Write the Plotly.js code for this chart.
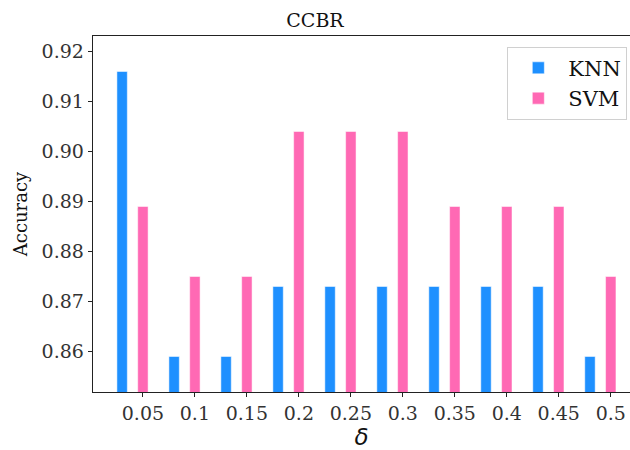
<!DOCTYPE html>
<html>
<head>
<meta charset="utf-8">
<script src="https://cdn.plot.ly/plotly-3.0.1.min.js"></script>
<style>html,body{margin:0;padding:0;background:#fff;}</style>
</head>
<body>
<div id="chart" style="width:630px;height:450px;"></div>
<script>
const deltas = ["0.05","0.1","0.15","0.2","0.25","0.3","0.35","0.4","0.45","0.5"];
const knn = [0.916,0.859,0.859,0.873,0.873,0.873,0.873,0.873,0.873,0.859];
const svm = [0.889,0.875,0.875,0.904,0.904,0.904,0.889,0.889,0.889,0.875];
const idx = deltas.map((d,i)=>i);
const barW = 0.2;
const serif = "'DejaVu Serif', 'Liberation Serif', serif";

const traces = [
  {type:'bar', name:'KNN', x: idx.map(i=>i-0.4), y: knn, width: barW,
   marker:{color:'#1E90FF', line:{color:'#ffffff', width:0.5}}},
  {type:'bar', name:'SVM', x: idx, y: svm, width: barW,
   marker:{color:'#FF69B4', line:{color:'#ffffff', width:0.5}}}
];

const layout = {
  width:630, height:450,
  margin:{l:93, r:0, t:36, b:58},
  paper_bgcolor:'#fff', plot_bgcolor:'#fff',
  barmode:'overlay',
  showlegend:true,
  font:{family:serif, color:'#222', size:18},
  title:{text:'CCBR', font:{family:serif, size:19, color:'#111'}, x:0.5, xanchor:'center', y:0.955, yanchor:'middle'},
  xaxis:{
    range:[-0.96, 9.37], tickmode:'array', tickvals: idx, ticktext: deltas,
    showgrid:false, zeroline:false, showline:true, linecolor:'#222', linewidth:1.3, mirror:true,
    ticks:'outside', ticklen:4, tickcolor:'#222', tickfont:{family:serif, size:19, color:'#333'},
    title:{text:'<i>δ</i>', font:{family:"'DejaVu Sans', sans-serif", size:23, color:'#111'}, standoff:5}
  },
  yaxis:{
    range:[0.8519, 0.9231], tickvals:[0.86,0.87,0.88,0.89,0.90,0.91,0.92], tickformat:'.2f',
    showgrid:false, zeroline:false, showline:true, linecolor:'#222', linewidth:1.3,
    ticks:'outside', ticklen:4, tickcolor:'#222', tickfont:{family:serif, size:19, color:'#333'},
    title:{text:'Accuracy', font:{family:serif, size:18, color:'#111'}, standoff:9}
  },
  legend:{x:0.995, xanchor:'right', y:0.97, yanchor:'top', bgcolor:'#fff', bordercolor:'#d0d0d0', borderwidth:1,
    font:{family:serif, size:21, color:'#111'}, itemwidth:50, tracegroupgap:8}
};

Plotly.newPlot('chart', traces, layout, {displayModeBar:false, staticPlot:true});
</script>
</body>
</html>
